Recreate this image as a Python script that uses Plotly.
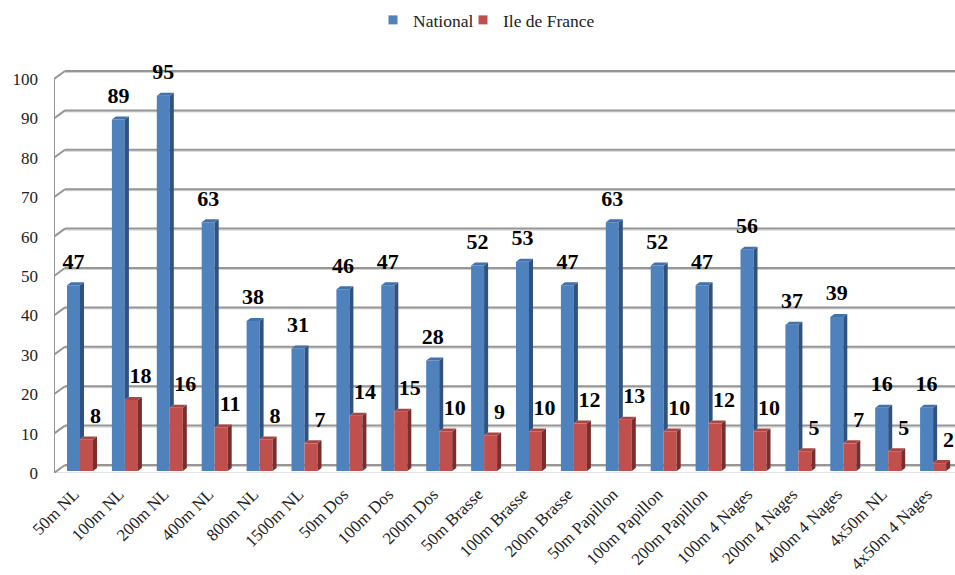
import plotly.graph_objects as go

categories = ["50m NL", "100m NL", "200m NL", "400m NL", "800m NL", "1500m NL", "50m Dos", "100m Dos", "200m Dos",
              "50m Brasse", "100m Brasse", "200m Brasse", "50m Papillon", "100m Papillon", "200m Papillon",
              "100m 4 Nages", "200m 4 Nages", "400m 4 Nages", "4x50m NL", "4x50m 4 Nages"]
national = [47, 89, 95, 63, 38, 31, 46, 47, 28, 52, 53, 47, 63, 52, 47, 56, 37, 39, 16, 16]
idf = [8, 18, 16, 11, 8, 7, 14, 15, 10, 9, 10, 12, 13, 10, 12, 10, 5, 7, 5, 2]
y_ticks = list(range(0, 101, 10))

W, H = 955, 575
SERIF = "Liberation Serif, Times New Roman, serif"
# pixel geometry of the chart's pseudo-3D box
CAT = 44.9            # px per category
X0 = 80.0             # px of first category centre
LEFT = 54.0
Y_AX0, Y_AX_SCALE = 473.0, 3.94      # front plane (tick labels)
Y_BAR0, Y_BAR_SCALE = 471.0, 3.95    # plane of the bars
TOP = 55.0
WALL_DX, WALL_DY = 11.0, 8.0
BAR_W = 13.0
BAR_DX, BAR_DY = 4.0, 3.0

bw = BAR_W / CAT
ddx = BAR_DX / CAT
ddv = BAR_DY / Y_BAR_SCALE
n = len(categories)
xs = list(range(n))
label_lift = 22.0 / Y_BAR_SCALE


def box_faces(left_edges, tops, floors):
    sx, sy, tx, ty = [], [], [], []
    for x, v, f in zip(left_edges, tops, floors):
        r = x + bw
        sx += [r, r + ddx, r + ddx, r, r, None]
        sy += [v, v + ddv, f + ddv, f, v, None]
        tx += [x, x + ddx, r + ddx, r, x, None]
        ty += [v, v + ddv, v + ddv, v, v, None]
    return sx, sy, tx, ty


fig = go.Figure()


def add_series(name, vals, floors, centre_shift, label_shift, front, side, top, legend_id):
    cx = [i + centre_shift for i in xs]
    fig.add_trace(go.Bar(x=cx, y=vals, width=bw, marker=dict(color=front, line=dict(width=0)),
                         yaxis="y2", showlegend=False, name=name, hoverinfo="y"))
    left = [c - bw / 2 for c in cx]
    sx, sy, tx, ty = box_faces(left, vals, floors)
    for px, py, col in ((sx, sy, side), (tx, ty, top)):
        fig.add_trace(go.Scatter(x=px, y=py, mode="lines", fill="toself", fillcolor=col,
                                 line=dict(width=0, color=col), yaxis="y2",
                                 showlegend=False, hoverinfo="skip"))
    fig.add_trace(go.Scatter(x=[c + label_shift for c in cx], y=[v + label_lift for v in vals],
                             mode="text", text=[str(v) for v in vals], textposition="middle center",
                             textfont=dict(family=SERIF, size=22, color="#000000", weight="bold"),
                             yaxis="y2", showlegend=False, hoverinfo="skip"))
    fig.add_trace(go.Scatter(x=[None], y=[None], mode="markers", name=name, legend=legend_id,
                             marker=dict(symbol="square", size=9, color=front), yaxis="y2"))


add_series("National", national, idf, -bw / 2, 0, "#4F81BD", "#2F5280", "#4272AC", "legend")
add_series("Ile de France", idf, [0] * n, bw / 2, 9 / CAT, "#C0504D", "#7A2E2C", "#A84643", "legend2")

# wall, floor and frame lines
GRID = "#969696"
SHADE = "#D2D2D2"
PX = 1 / Y_AX_SCALE
dx_wall = WALL_DX / CAT
dv_wall = WALL_DY / Y_AX_SCALE
x_left = (LEFT - X0) / CAT
x_right = (W - X0) / CAT
shapes = []


def seg(x0, y0, x1, y1, color=GRID, width=2):
    shapes.append(dict(type="line", xref="x", yref="y", x0=x0, y0=y0, x1=x1, y1=y1,
                       layer="below", line=dict(color=color, width=width)))


for v in y_ticks:
    seg(x_left + dx_wall, v + dv_wall - 1.5 * PX, x_right, v + dv_wall - 1.5 * PX, color=SHADE, width=1)
    seg(x_left + dx_wall, v + dv_wall, x_right, v + dv_wall)
    seg(x_left, v, x_left + dx_wall, v + dv_wall)
seg(x_left, -0.25, x_left, y_ticks[-1])
seg(x_left, -0.25 - 2 * PX, x_right, -0.25 - 2 * PX, color=SHADE, width=1)
seg(x_left, -0.25, x_right, -0.25, width=2.5)


def legend_at(px):
    return dict(orientation="h", x=px / W, xanchor="left", y=1 - 2 / H, yanchor="top",
                font=dict(family=SERIF, size=17.5, color="#222222"), bgcolor="rgba(0,0,0,0)")


fig.update_layout(
    width=W, height=H, margin=dict(l=0, r=0, t=0, b=0), autosize=False,
    paper_bgcolor="white", plot_bgcolor="rgba(0,0,0,0)", barmode="overlay", shapes=shapes,
    xaxis=dict(domain=[LEFT / W, 1], range=[x_left, x_right], tickmode="array", tickvals=xs,
               ticktext=categories, tickangle=-45, ticks="", showgrid=False, zeroline=False,
               showline=False, ticklabelstandoff=7, ticklabelshift=-6, anchor="y", automargin=False,
               tickfont=dict(family=SERIF, size=17, color="#222222")),
    yaxis=dict(domain=[(H - Y_AX0) / H, (H - TOP) / H], range=[0, (Y_AX0 - TOP) / Y_AX_SCALE],
               tickmode="array", tickvals=y_ticks, ticks="", showgrid=False, zeroline=False,
               showline=False, ticklabelstandoff=15, anchor="x", automargin=False,
               tickfont=dict(family=SERIF, size=17, color="#222222")),
    yaxis2=dict(overlaying="y", side="left", visible=False, anchor="x", automargin=False,
                range=[(Y_BAR0 - Y_AX0) / Y_BAR_SCALE, (Y_BAR0 - TOP) / Y_BAR_SCALE]),
    legend=legend_at(373),
    legend2=legend_at(463),
)

fig.write_html("out.html", post_script="document.body.style.margin='0';",
               config={"displayModeBar": False})
